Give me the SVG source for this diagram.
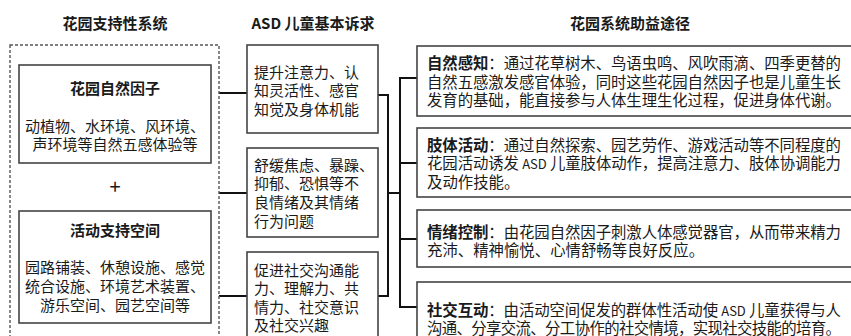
<svg xmlns="http://www.w3.org/2000/svg" width="851" height="336" viewBox="0 0 851 336">
<style>
text{font-family:"Noto Sans CJK SC","Liberation Sans",sans-serif;fill:#1a1a1a;}
.h{font-size:15px;font-weight:bold;text-anchor:middle;}
.t{font-size:15px;}
.c{text-anchor:middle;}
.r{font-size:15.4px;}
.b{font-weight:bold;}
.n{font-size:13px;}
.box{fill:#fff;stroke:#444;stroke-width:1.6;}
.dash{fill:none;stroke:#555;stroke-width:1.4;stroke-dasharray:3 2;}
.con{fill:none;stroke:#111;stroke-width:2;}
</style>
<rect width="851" height="336" fill="#fff"/>
<g id="headers">
<text class="h" x="115" y="29">花园支持性系统</text>
<text class="h" x="313" y="29">ASD 儿童基本诉求</text>
<text class="h" x="630" y="29">花园系统助益途径</text>
</g>
<g id="connectors">
<path class="con" d="M219 93H247M219 193H247M219 296H247"/>
<path class="con" d="M378 95H388V296H378M388 193H400"/>
<path class="con" d="M417 78H400V307H417M400 163H417M400 239H417"/>
</g>
<g id="support-system">
<rect class="dash" x="10" y="45" width="209" height="310"/>
</g>
<g id="natural-factors">
<rect class="box" x="19" y="65" width="192" height="98"/>
<text class="t b c" x="115" y="94">花园自然因子</text>
<text class="t c" x="115" y="132">动植物、水环境、风环境、</text>
<text class="t c" x="115" y="150">声环境等自然五感体验等</text>
</g>
<g id="plus">
<text class="t c" x="115" y="194" style="font-size:20px">+</text>
</g>
<g id="activity-space">
<rect class="box" x="19" y="211" width="192" height="112"/>
<text class="t b c" x="115" y="236">活动支持空间</text>
<text class="t c" x="115" y="273">园路铺装、休憩设施、感觉</text>
<text class="t c" x="115" y="292">统合设施、环境艺术装置、</text>
<text class="t c" x="115" y="311">游乐空间、园艺空间等</text>
</g>
<g id="need-1">
<rect class="box" x="247" y="45" width="131" height="88"/>
<text class="t" x="254" y="78">提升注意力、认</text>
<text class="t" x="254" y="96">知灵活性、感官</text>
<text class="t" x="254" y="115">知觉及身体机能</text>
</g>
<g id="need-2">
<rect class="box" x="247" y="148" width="131" height="89"/>
<text class="t" x="254" y="171">舒缓焦虑、暴躁、</text>
<text class="t" x="254" y="189">抑郁、恐惧等不</text>
<text class="t" x="254" y="208">良情绪及其情绪</text>
<text class="t" x="254" y="227">行为问题</text>
</g>
<g id="need-3">
<rect class="box" x="247" y="252" width="131" height="100"/>
<text class="t" x="254" y="276">促进社交沟通能</text>
<text class="t" x="254" y="294">力、理解力、共</text>
<text class="t" x="254" y="313">情力、社交意识</text>
<text class="t" x="254" y="331">及社交兴趣</text>
</g>
<g id="path-1">
<rect class="box" x="417" y="46" width="450" height="70"/>
<text class="r" x="427" y="69" textLength="414" lengthAdjust="spacing"><tspan class="b">自然感知</tspan>：通过花草树木、鸟语虫鸣、风吹雨滴、四季更替的</text>
<text class="r" x="427" y="88" textLength="414" lengthAdjust="spacing">自然五感激发感官体验，同时这些花园自然因子也是儿童生长</text>
<text class="r" x="427" y="106" textLength="414" lengthAdjust="spacing">发育的基础，能直接参与人体生理生化过程，促进身体代谢。</text>
</g>
<g id="path-2">
<rect class="box" x="417" y="128" width="450" height="69"/>
<text class="r" x="427" y="151" textLength="414" lengthAdjust="spacing"><tspan class="b">肢体活动</tspan>：通过自然探索、园艺劳作、游戏活动等不同程度的</text>
<text class="r" x="427" y="169" textLength="414" lengthAdjust="spacing">花园活动诱发 <tspan class="n">ASD</tspan> 儿童肢体动作，提高注意力、肢体协调能力</text>
<text class="r" x="427" y="188">及动作技能。</text>
</g>
<g id="path-3">
<rect class="box" x="417" y="210" width="450" height="57"/>
<text class="r" x="427" y="238" textLength="414" lengthAdjust="spacing"><tspan class="b">情绪控制</tspan>：由花园自然因子刺激人体感觉器官，从而带来精力</text>
<text class="r" x="427" y="256">充沛、精神愉悦、心情舒畅等良好反应。</text>
</g>
<g id="path-4">
<rect class="box" x="417" y="282" width="450" height="70"/>
<text class="r" x="427" y="316" textLength="414" lengthAdjust="spacing"><tspan class="b">社交互动</tspan>：由活动空间促发的群体性活动使 <tspan class="n">ASD</tspan> 儿童获得与人</text>
<text class="r" x="427" y="334" textLength="414" lengthAdjust="spacing">沟通、分享交流、分工协作的社交情境，实现社交技能的培育。</text>
</g>
</svg>
